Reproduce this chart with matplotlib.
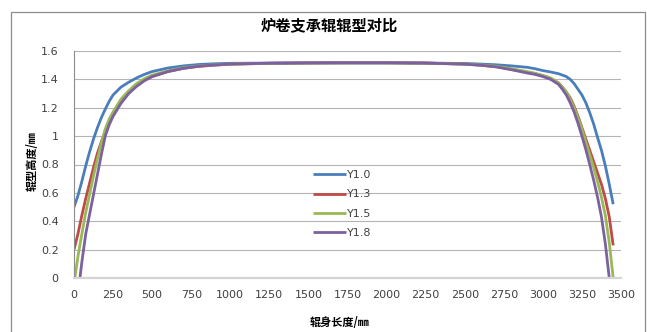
import matplotlib
matplotlib.use("Agg")
import matplotlib.pyplot as plt
from matplotlib.patches import Rectangle
from matplotlib.ticker import FuncFormatter, MultipleLocator

# roll body position (mm) and crown height (mm) per roll profile
x_pos = [0, 25, 50, 75, 100, 125, 150, 175, 200, 225, 250,
         300, 350, 400, 450, 500, 600, 700, 800, 900, 1000,
         1250, 1500, 1725, 2000, 2250, 2500, 2600, 2700, 2800, 2900, 2950,
         3000, 3050, 3100, 3125, 3150, 3175, 3200, 3225, 3250, 3275, 3300, 3325,
         3350, 3375, 3400, 3425, 3450]

y10 = [0.50, 0.58, 0.68, 0.79, 0.89, 0.98, 1.06, 1.13, 1.19, 1.245, 1.29,
       1.345, 1.38, 1.41, 1.435, 1.455, 1.48, 1.495, 1.505, 1.51, 1.513,
       1.515, 1.516, 1.516, 1.516, 1.515, 1.512, 1.508, 1.503, 1.495, 1.485, 1.475,
       1.462, 1.452, 1.44, 1.43, 1.42, 1.40, 1.37, 1.33, 1.29, 1.235, 1.165, 1.085,
       0.99, 0.90, 0.79, 0.66, 0.52]
y13 = [0.20, 0.31, 0.44, 0.56, 0.67, 0.78, 0.88, 0.96, 1.03, 1.09, 1.15,
       1.24, 1.31, 1.36, 1.395, 1.42, 1.455, 1.478, 1.492, 1.50, 1.507,
       1.513, 1.516, 1.517, 1.517, 1.515, 1.508, 1.50, 1.49, 1.47, 1.45, 1.44,
       1.425, 1.405, 1.375, 1.345, 1.31, 1.27, 1.21, 1.14, 1.06, 0.98, 0.90, 0.82,
       0.74, 0.66, 0.56, 0.43, 0.23]
y15 = [-0.04, 0.15, 0.31, 0.46, 0.59, 0.72, 0.84, 0.95, 1.05, 1.12, 1.17,
       1.26, 1.32, 1.37, 1.405, 1.43, 1.46, 1.482, 1.495, 1.503, 1.508,
       1.513, 1.515, 1.516, 1.516, 1.514, 1.508, 1.502, 1.492, 1.475, 1.455, 1.443,
       1.428, 1.41, 1.375, 1.345, 1.31, 1.26, 1.20, 1.13, 1.05, 0.96, 0.87, 0.78,
       0.68, 0.57, 0.44, 0.25, 0.0]
y18 = [-0.35, -0.12, 0.11, 0.31, 0.45, 0.59, 0.73, 0.87, 1.00, 1.08, 1.14,
       1.23, 1.30, 1.35, 1.39, 1.42, 1.455, 1.478, 1.493, 1.502, 1.508,
       1.514, 1.516, 1.517, 1.517, 1.515, 1.507, 1.50, 1.488, 1.468, 1.445, 1.435,
       1.42, 1.40, 1.365, 1.33, 1.29, 1.235, 1.17, 1.09, 1.00, 0.905, 0.80, 0.69,
       0.57, 0.43, 0.24, 0.0, -0.28]

labels = ["Y1.0", "Y1.3", "Y1.5", "Y1.8"]
colors = ["#4A7EBB", "#BE4B48", "#98B954", "#7D60A0"]

cjk = ["Noto Sans CJK SC", "DejaVu Sans"]

fig = plt.figure(figsize=(6.47, 3.32), dpi=100)
ax = fig.add_axes([74 / 647, 1 - 278 / 332, 547 / 647, 227 / 332])

# outer chart frame like Excel
fig.patches.append(Rectangle((11 / 647, -0.01), 634 / 647, 1 - 12 / 332 + 0.01,
                             transform=fig.transFigure, fill=False,
                             edgecolor="#8c8c8c", linewidth=0.9))

for ys, lab, c in zip([y10, y13, y15, y18], labels, colors):
    ax.plot(x_pos, ys, color=c, linewidth=2.0, label=lab,
            solid_joinstyle="round", solid_capstyle="butt")

ax.set_xlim(0, 3500)
ax.set_ylim(0, 1.6)
ax.xaxis.set_major_locator(MultipleLocator(250))
ax.yaxis.set_major_locator(MultipleLocator(0.2))
ax.yaxis.set_major_formatter(FuncFormatter(lambda v, p: f"{v:g}"))

ax.grid(axis="y", color="#b4b4b4", linewidth=0.8)
ax.set_axisbelow(True)
for s in ["top", "right"]:
    ax.spines[s].set_visible(False)
ax.spines["left"].set_color("#8c8c8c")
ax.spines["left"].set_linewidth(0.8)
ax.spines["bottom"].set_color("#d4d4d4")
ax.spines["bottom"].set_linewidth(1.6)
ax.tick_params(length=0, labelsize=8, labelcolor="#404040")
ax.tick_params(axis="y", pad=11)
ax.tick_params(axis="x", pad=9)

fig.text(329 / 647, 1 - 25 / 332, "炉卷支承辊辊型对比", family=cjk, fontsize=11,
         fontweight="bold", ha="center", va="center", color="#000000")
fig.text(32 / 647, 1 - 161 / 332, "辊型高度/㎜", family=cjk, fontsize=8,
         fontweight="bold", rotation=90, ha="center", va="center")
fig.text(340 / 647, 1 - 323 / 332, "辊身长度/㎜", family=cjk, fontsize=8,
         fontweight="bold", ha="center", va="center")

ax.legend(loc="upper left", bbox_to_anchor=((313 - 74) / 547, (278 - 170) / 227),
          frameon=False, fontsize=8, handlelength=3.0, handletextpad=0.1,
          labelspacing=0.85, borderpad=0, borderaxespad=0, labelcolor="#404040")

fig.savefig("out.png", dpi=100)
